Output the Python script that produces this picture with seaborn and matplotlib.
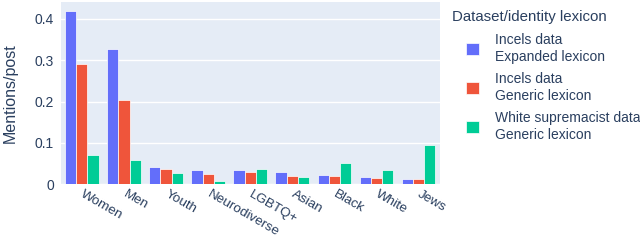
import pandas as pd
import seaborn as sns
import matplotlib.pyplot as plt
import matplotlib.transforms as mtrans
from matplotlib.patches import Patch

# --- data ---
groups = ['Women', 'Men', 'Youth', 'Neurodiverse', 'LGBTQ+', 'Asian', 'Black', 'White', 'Jews']
series = ['Incels data\nExpanded lexicon',
          'Incels data\nGeneric lexicon',
          'White supremacist data\nGeneric lexicon']
incels_expanded = [0.419, 0.326, 0.043, 0.035, 0.034, 0.030, 0.023, 0.018, 0.013]
incels_generic = [0.290, 0.204, 0.038, 0.026, 0.030, 0.021, 0.020, 0.015, 0.013]
whitesup_generic = [0.071, 0.060, 0.028, 0.009, 0.037, 0.017, 0.052, 0.035, 0.096]
colors = ['#636efa', '#EF553B', '#00cc96']

df = pd.DataFrame({
    'group': groups * 3,
    'series': [series[0]] * 9 + [series[1]] * 9 + [series[2]] * 9,
    'value': incels_expanded + incels_generic + whitesup_generic,
})

sns.set_theme(style='white')
plt.rcParams['font.family'] = ['Liberation Sans', 'DejaVu Sans']
text_col = '#2a3f5f'

fig = plt.figure(figsize=(6.4, 2.4), dpi=100)
ax = fig.add_axes([0.095, 0.232, 0.592, 0.76])
ax.set_facecolor('#E5ECF6')

sns.barplot(data=df, x='group', y='value', hue='series', hue_order=series,
            palette=colors, saturation=1, width=0.8, edgecolor='white',
            linewidth=0.5, errorbar=None, legend=False, ax=ax)

ax.set_xlim(-0.5, len(groups) - 0.5)
ax.set_ylim(0, 0.441)
ax.set_yticks([0, 0.1, 0.2, 0.3, 0.4])
ax.set_yticklabels(['0', '0.1', '0.2', '0.3', '0.4'])
ax.yaxis.grid(True, color='white', linewidth=1)
ax.set_axisbelow(True)
for s in ax.spines.values():
    s.set_visible(False)

ax.tick_params(axis='both', length=0, labelsize=10, colors=text_col)
ax.tick_params(axis='y', pad=5)
ax.tick_params(axis='x', pad=3, labelsize=9.7)
shift = mtrans.ScaledTranslation(3 / 100, 0, fig.dpi_scale_trans)
for lab in ax.get_xticklabels():
    lab.set_rotation(-30)
    lab.set_ha('left')
    lab.set_rotation_mode('anchor')
    lab.set_transform(lab.get_transform() + shift)
ax.set_xlabel('')
ax.set_ylabel('Mentions/post', fontsize=11.5, color=text_col, labelpad=12)

# legend: title sits left of the indented entries
fig.text(452 / 640, 1 - 17 / 240, 'Dataset/identity lexicon', fontsize=10.8,
         color=text_col, ha='left', va='center')
handles = [Patch(facecolor=c, edgecolor='white', linewidth=0.5) for c in colors]
leg = fig.legend(handles, series, loc='upper left', bbox_to_anchor=(466 / 640, 1 - 33 / 240),
                 frameon=False, fontsize=10, handlelength=0.95, handleheight=0.95,
                 handletextpad=1.15, labelspacing=0.6, borderaxespad=0,
                 borderpad=0)
for t in leg.get_texts():
    t.set_color(text_col)
    t.set_linespacing(1.25)

fig.savefig('out.png', dpi=100)
plt.close(fig)
